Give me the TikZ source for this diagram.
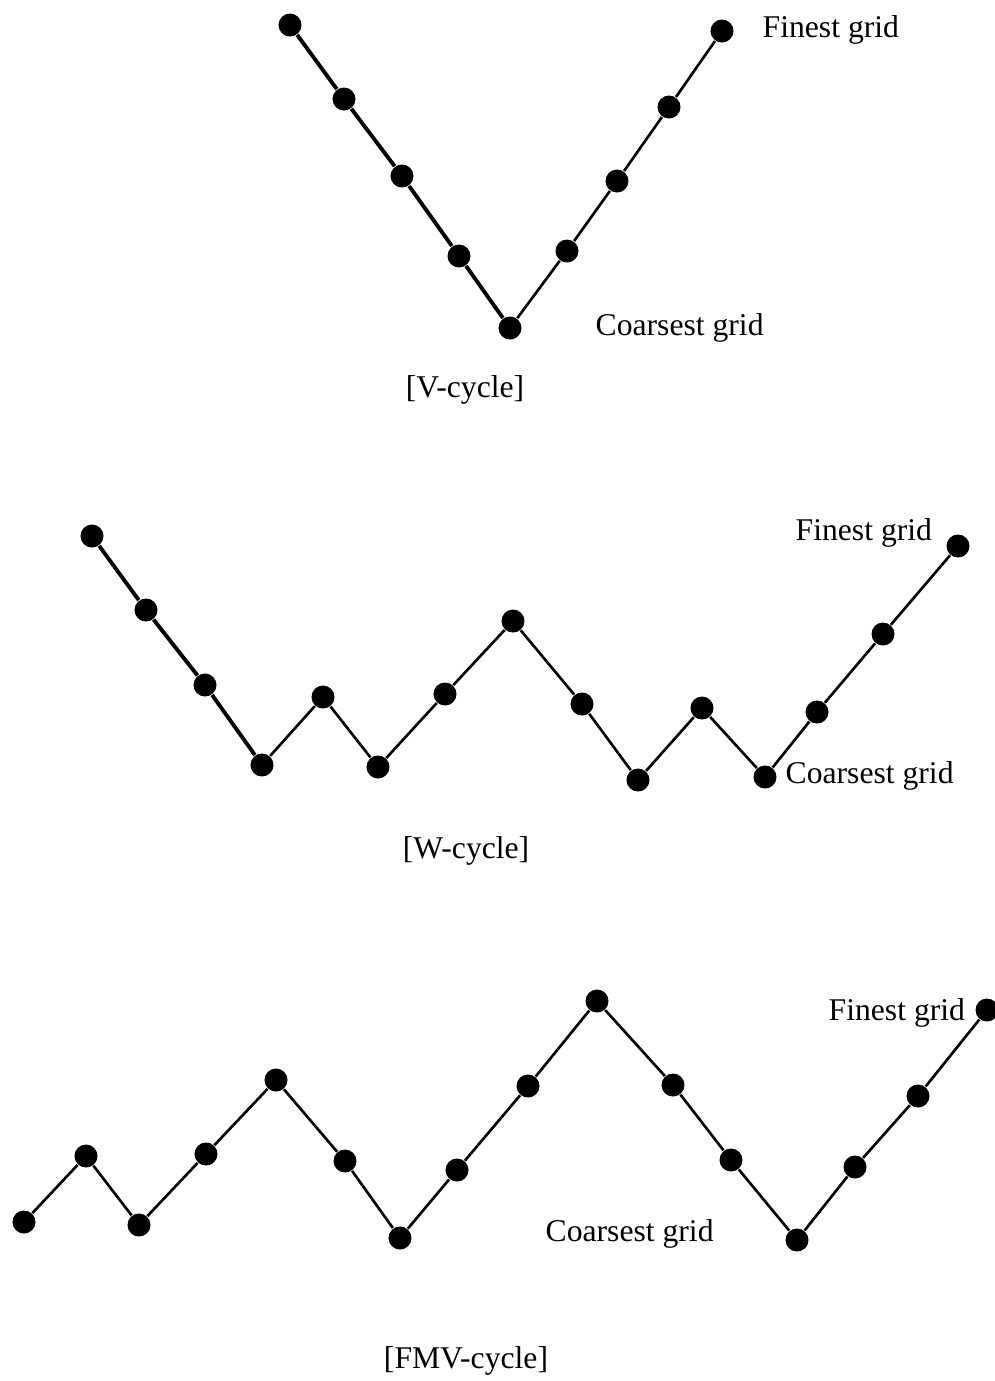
\documentclass[tikz,border=0pt]{standalone}
\usepackage{fontspec}
\setmainfont{Liberation Serif}
\usetikzlibrary{positioning}

\begin{document}
\begin{tikzpicture}[x=0.01cm,y=-0.01cm,font=\fontsize{9}{10}\selectfont,
  pt/.style={circle,fill=black,inner sep=0pt,minimum width=0.2cm,minimum height=0.23cm},
  ln/.style={line width=0.75pt},
  thk/.style={line width=1.1pt},
  lab/.style={inner sep=0pt,anchor=west},
  cyc/.style={inner sep=0pt}]
  \useasboundingbox (0,0) rectangle (995,1381);
  % V-cycle
  \foreach \i/\x/\y in {1/290/25,2/344/99,3/402/176,4/459/256,5/510/328,
                        6/567/251,7/617/181,8/669/107,9/722/31}
    \node[pt] (v\i) at (\x,\y) {};
  \foreach \i/\j in {1/2,2/3,3/4,4/5} \draw[thk] (v\i) -- (v\j);
  \foreach \i/\j in {5/6,6/7,7/8,8/9} \draw[ln] (v\i) -- (v\j);
  \node[lab] (vfine) at (762,30) {Finest grid};
  \node[lab] (vcoarse) at (595,328) {Coarsest grid};
  \node[cyc] (vcap) at (465,390) {[V-cycle]};
  % W-cycle
  \foreach \i/\x/\y in {1/92/536,2/146/610,3/205/685,4/262/765,5/323/697,
                        6/378/767,7/445/694,8/513/621,9/582/704,10/638/780,
                        11/702/708,12/765/777,13/817/712,14/883/634,15/958/546}
    \node[pt] (w\i) at (\x,\y) {};
  \foreach \i/\j in {1/2,2/3,3/4} \draw[thk] (w\i) -- (w\j);
  \foreach \i/\j in {4/5,5/6,6/7,7/8,8/9,9/10,10/11,11/12,12/13,13/14,14/15}
    \draw[ln] (w\i) -- (w\j);
  \node[lab] (wfine) at (795,533) {Finest grid};
  \node[lab] (wcoarse) at (785,776) {Coarsest grid};
  \node[cyc] (wcap) at (466,851) {[W-cycle]};
  % FMV-cycle
  \foreach \i/\x/\y in {1/24/1222,2/86/1156,3/139/1225,4/206/1154,5/276/1080,
                        6/345/1161,7/400/1238,8/457/1170,9/528/1086,10/597/1001,
                        11/673/1085,12/731/1160,13/797/1240,14/855/1167,15/918/1096,
                        16/987/1010}
    \node[pt] (f\i) at (\x,\y) {};
  \foreach \i/\j in {1/2,2/3,3/4,4/5,5/6,6/7,7/8,8/9,9/10,10/11,11/12,12/13,
                     13/14,14/15,15/16}
    \draw[ln] (f\i) -- (f\j);
  \node[lab] (ffine) at (828,1013) {Finest grid};
  \node[lab] (fcoarse) at (545,1234) {Coarsest grid};
  \node[cyc] (fcap) at (466,1361) {[FMV-cycle]};
\end{tikzpicture}
\end{document}
